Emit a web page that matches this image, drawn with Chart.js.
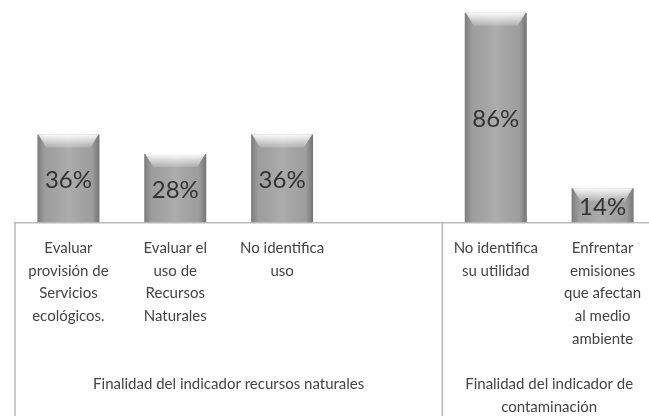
<!DOCTYPE html>
<html>
<head>
<meta charset="utf-8">
<script src="https://cdn.jsdelivr.net/npm/chart.js@4.4.1/dist/chart.umd.min.js"></script>
<style>
  html, body { margin: 0; padding: 0; background: #fff; overflow: hidden; }
  #wrap { width: 660px; height: 416px; }
</style>
</head>
<body>
<div id="wrap"><canvas id="chart" width="660" height="416"></canvas></div>
<script>
// categories (4th slot is an empty gap in the first group)
const categories = [
  ["Evaluar", "provisión de", "Servicios", "ecológicos."],
  ["Evaluar el", "uso de", "Recursos", "Naturales"],
  ["No identifica", "uso"],
  "",
  ["No identifica", "su utilidad"],
  ["Enfrentar", "emisiones", "que afectan", "al medio", "ambiente"]
];
const values = [36, 28, 36, null, 86, 14];
const groupLabels = [
  ["Finalidad del indicador recursos naturales"],
  ["Finalidad del indicador de", "contaminación"]
];
const groupSizes = [4, 2];

const FONT = "Lato, 'Open Sans', sans-serif";

// gray bevel look + value labels inside the bars
const bevelBars = {
  id: "bevelBars",
  afterDatasetsDraw(chart) {
    const ctx = chart.ctx;
    const meta = chart.getDatasetMeta(0);
    meta.data.forEach((bar, i) => {
      if (values[i] == null) return;
      const p = bar.getProps(["x", "y", "base", "width"], true);
      const l = p.x - p.width / 2, r = p.x + p.width / 2;
      const t = p.y, b = p.base;
      ctx.save();
      let g = ctx.createLinearGradient(l, 0, r, 0);
      g.addColorStop(0, "rgba(0,0,0,0.25)");
      g.addColorStop(0.12, "rgba(0,0,0,0.05)");
      g.addColorStop(0.5, "rgba(255,255,255,0.08)");
      g.addColorStop(0.88, "rgba(0,0,0,0.05)");
      g.addColorStop(1, "rgba(0,0,0,0.3)");
      ctx.fillStyle = g;
      ctx.fillRect(l, t, r - l, b - t);
      // top bevel
      const bh = Math.min(13, (b - t) / 2);
      g = ctx.createLinearGradient(0, t, 0, t + bh);
      g.addColorStop(0, "rgba(255,255,255,0.95)");
      g.addColorStop(1, "rgba(255,255,255,0.15)");
      ctx.fillStyle = g;
      ctx.beginPath();
      ctx.moveTo(l + 1, t);
      ctx.lineTo(r - 1, t);
      ctx.lineTo(r - 9, t + bh);
      ctx.lineTo(l + 9, t + bh);
      ctx.closePath();
      ctx.fill();
      // value label
      ctx.fillStyle = "#333";
      ctx.font = "24px " + FONT;
      ctx.textAlign = "center";
      ctx.textBaseline = "middle";
      ctx.fillText(values[i] + "%", p.x, (t + b) / 2 + 2);
      ctx.restore();
    });
  },
  afterDraw(chart) {
    const ctx = chart.ctx;
    const x = chart.scales.x;
    const area = chart.chartArea;
    const step = x.getPixelForValue(1) - x.getPixelForValue(0);
    ctx.save();
    ctx.strokeStyle = "#b8b8b8";
    ctx.lineWidth = 1.5;
    let start = 0;
    groupSizes.forEach((n, gi) => {
      const left = x.getPixelForValue(start) - step / 2;
      const right = x.getPixelForValue(start + n - 1) + step / 2;
      ctx.beginPath();
      ctx.moveTo(left, area.bottom);
      ctx.lineTo(left, chart.height);
      ctx.stroke();
      ctx.fillStyle = "#444";
      ctx.font = "15px " + FONT;
      ctx.textAlign = "center";
      ctx.textBaseline = "middle";
      groupLabels[gi].forEach((line, li) => {
        ctx.fillText(line, (left + right) / 2, area.bottom + 162 + li * 23);
      });
      start += n;
    });
    ctx.restore();
  }
};

new Chart(document.getElementById("chart"), {
  type: "bar",
  data: {
    labels: categories,
    datasets: [{
      data: values,
      backgroundColor: "#a6a6a6",
      barPercentage: 0.58,
      categoryPercentage: 1
    }]
  },
  options: {
    responsive: false,
    animation: false,
    layout: { padding: { left: 15, right: 4, top: 3, bottom: 51 } },
    plugins: { legend: { display: false }, tooltip: { enabled: false } },
    scales: {
      y: { display: false, min: 0, max: 90 },
      x: {
        grid: { display: false, drawTicks: false },
        border: { display: true, color: "#bcbcbc", width: 1.5 },
        ticks: {
          color: "#444",
          font: { family: FONT, size: 15, lineHeight: 1.53 },
          padding: 14,
          maxRotation: 0,
          autoSkip: false
        }
      }
    }
  },
  plugins: [bevelBars]
});
</script>
</body>
</html>
